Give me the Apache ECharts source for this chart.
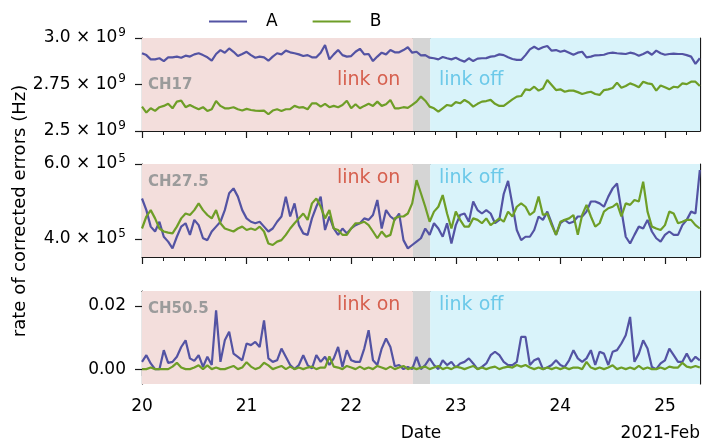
<!DOCTYPE html>
<html><head><meta charset="utf-8">
<script src="https://cdn.jsdelivr.net/npm/echarts@6/dist/echarts.min.js"></script>
<style>html,body{margin:0;padding:0;background:#fff}#c{width:702px;height:444px}</style>
</head><body><div id="c"></div>
<script>
// time base: hourly samples starting 2021-Feb-20 00:00 (x axis in day-of-month)
const dayStart = 20;
const stepHours = 1;
const xMin = 20, xMax = 25.335;
const xTickLabels = [20, 21, 22, 23, 24, 25];
const monthLabel = '2021-Feb';

// phases (day-of-month)
const linkOnSpan = [20, 22.59];
const transitionSpan = [22.59, 22.755];
const linkOffSpan = [22.755, 25.335];

// CH17 (units of 1e9 Hz)
const ch17A = [2.918,2.908,2.885,2.885,2.891,2.876,2.896,2.896,2.9,2.894,2.905,2.9,2.912,2.918,2.908,2.896,2.878,2.914,2.935,2.921,2.944,2.926,2.903,2.914,2.926,2.908,2.894,2.9,2.896,2.878,2.9,2.918,2.912,2.932,2.923,2.918,2.912,2.903,2.908,2.896,2.896,2.921,2.962,2.885,2.912,2.935,2.908,2.9,
2.903,2.926,2.942,2.912,2.914,2.876,2.9,2.921,2.912,2.935,2.923,2.923,2.935,2.95,2.921,2.926,2.907,2.908,2.894,2.891,2.885,2.898,2.891,2.885,2.894,2.882,2.873,2.891,2.876,2.889,2.891,2.892,2.9,2.903,2.912,2.908,2.896,2.887,2.882,2.882,2.908,2.939,2.953,2.939,2.95,2.957,2.932,2.935,2.926,2.932,2.921,2.91,2.921,2.926,2.896,2.9,2.907,2.908,2.91,2.918,2.921,2.918,2.916,2.914,2.921,2.916,2.905,2.914,2.926,2.91,2.932,2.918,2.91,2.914,2.916,2.914,2.914,2.908,2.9,2.861,2.891];
const ch17B = [2.631,2.599,2.622,2.608,2.628,2.635,2.646,2.622,2.658,2.663,2.628,2.64,2.628,2.617,2.628,2.608,2.617,2.661,2.635,2.622,2.622,2.628,2.617,2.61,2.619,2.613,2.61,2.608,2.61,2.59,2.61,2.617,2.608,2.617,2.617,2.635,2.626,2.628,2.617,2.649,2.649,2.631,2.646,2.628,2.635,2.628,2.64,2.663,
2.622,2.644,2.622,2.635,2.646,2.635,2.658,2.635,2.644,2.667,2.622,2.622,2.628,2.624,2.64,2.658,2.685,2.663,2.631,2.622,2.604,2.622,2.64,2.635,2.655,2.649,2.667,2.653,2.631,2.646,2.658,2.661,2.667,2.646,2.635,2.635,2.653,2.67,2.685,2.688,2.724,2.72,2.738,2.717,2.729,2.774,2.747,2.72,2.724,2.711,2.717,2.717,2.709,2.699,2.706,2.711,2.699,2.694,2.72,2.724,2.731,2.76,2.733,2.742,2.756,2.747,2.735,2.765,2.756,2.752,2.717,2.745,2.735,2.724,2.738,2.735,2.756,2.752,2.765,2.765,2.742];

// CH27.5 (units of 1e5 Hz)
const ch27A = [5.08,4.77,4.33,4.2,4.46,4.06,3.93,3.75,4.06,4.33,4.42,4.11,4.51,4.37,4.02,3.97,4.2,4.33,4.46,4.77,5.22,5.35,5.13,4.77,4.55,4.46,4.42,4.46,4.33,4.2,4.28,4.46,4.6,5.13,4.6,4.95,4.37,4.15,4.11,4.55,4.86,5.13,4.24,4.6,
4.28,4.11,4.28,4.15,4.28,4.37,4.42,4.55,4.51,4.64,5.04,4.28,4.77,4.6,4.51,4.68,3.97,3.75,3.84,3.93,4.02,4.28,4.11,4.42,4.28,4.06,4.42,3.88,4.37,4.64,4.68,4.46,5.0,4.77,4.68,4.77,4.68,4.42,4.51,5.2,5.55,4.91,
4.24,3.97,4.06,4.06,4.24,4.6,4.51,4.73,4.42,4.11,4.42,4.51,4.42,4.46,4.6,4.6,4.73,5.0,5.0,4.95,4.86,5.13,5.35,5.48,4.77,4.06,3.88,4.11,4.33,4.28,4.51,4.2,4.02,3.93,4.11,4.2,4.11,4.11,4.37,4.51,4.73,4.68,5.84];
const ch27B = [4.28,4.6,4.77,4.55,4.28,4.2,4.17,4.15,4.33,4.55,4.68,4.64,4.77,4.95,4.77,4.64,4.55,4.77,4.42,4.28,4.24,4.2,4.28,4.33,4.24,4.28,4.24,4.33,4.2,3.88,3.84,3.93,3.97,4.11,4.28,4.42,4.55,4.68,4.51,4.95,5.08,4.86,4.55,4.77,
4.28,4.24,4.11,4.11,4.28,4.42,4.42,4.46,4.37,4.2,4.02,4.2,4.06,4.11,4.55,4.6,4.6,4.68,4.95,5.57,5.22,4.86,4.46,4.73,4.86,5.17,4.68,4.28,4.73,4.51,4.33,4.33,4.55,4.51,4.42,4.55,4.37,4.46,4.55,4.46,4.73,4.6,
4.86,4.95,4.86,4.64,4.73,5.13,4.64,4.68,4.37,4.11,4.46,4.51,4.55,4.64,4.11,4.64,4.91,4.6,4.33,4.42,4.73,4.82,4.86,4.95,4.6,4.95,4.91,5.04,5.0,5.53,4.73,4.33,4.28,4.24,4.37,4.73,4.68,4.42,4.46,4.51,4.51,4.37,4.28];

// CH50.5 (Hz)
const ch50A = [0.0023,0.0044,0.0018,0,0,0.006,0.002,0.0023,0.0039,0.007,0.0091,0.0034,0.0026,0.0044,0.0007,0.0039,0.0013,0.0186,0.0023,0.0091,0.0118,0.0049,0.0039,0.0028,0.0081,0.0076,0.0086,0.007,0.0154,0.0034,0.0023,0.0028,0.0065,0.0039,0.0013,0,0.0013,0.0044,0.0013,0.0002,0.0044,0.0023,0.0039,0.0013,
0.0034,0.007,0.0007,0.006,0.0028,0.0023,0.0023,0.0065,0.0123,0.0028,0.0013,0.0065,0.0097,0.007,0.0009,0.0013,0,0.0007,0,0.0039,0,0.0013,0.0034,0.0013,0,0.0028,0.0013,0.0023,0.0005,0.0018,0.0023,0.0034,0.0018,0,0.0007,0.0018,0.0044,0.0055,0.0044,0.0023,0.0013,0.0013,
0.0023,0.0102,0.0102,0.0013,0.0028,0.0034,0,0.0005,0.0013,0.0028,0.0013,0.0007,0.0028,0.006,0.0034,0.0023,0.0034,0.006,0.0013,0.0055,0.0049,0.0013,0.0055,0.006,0.0081,0.0107,0.0165,0.0023,0.0049,0.0091,0.0065,0.0007,0,0.0018,0.0028,0.0065,0.0044,0.0023,0.0023,0.0049,0.0023,0.0039,0.0028];
const ch50B = [0,0,0.0005,0,0,0,0,0.0008,0.002,0.0005,0,0,0.0005,0.0012,0,0.0012,0,0.0005,0,0,0.0005,0.001,0,0.0005,0.0022,0.0008,0,0.0005,0.002,0.0012,0,0.0005,0.001,0,0.0008,0,0.0005,0,0.0005,0.0008,0,0.0005,0.0005,0.004,
0.0008,0.0005,0,0.001,0.0005,0,0.0008,0,0.0005,0,0.001,0.0005,0,0.0008,0,0.0005,0.001,0,0.0005,0,0.0005,0.0008,0,0.0005,0.001,0,0.0005,0,0.0008,0.0005,0,0.0005,0.001,0,0.0005,0,0.0005,0.0008,0,0.0005,0.0008,0.0005,
0.0013,0.0008,0.0013,0.0005,0,0.0005,0,0.0005,0,0.0005,0,0.0005,0,0.0005,0.0005,0,0.0023,0.0005,0,0.0005,0,0.0005,0.0012,0,0.0005,0,0.0005,0,0.001,0,0.0005,0,0,0.0005,0,0.0008,0.0005,0.0005,0.002,0.0008,0.0005,0.001,0.0005];

const seriesNames = ['A', 'B'];
const panelNames = ['CH17', 'CH27.5', 'CH50.5'];
const yTicks = [[2.5, 2.75, 3.0], [4.0, 6.0], [0.0, 0.02]];
const yRanges = [[2.5, 3.0], [3.52, 6.0], [-0.0047, 0.0247]];
const yExponents = ['9', '5', null];

// ---- styling ----
const FONT = 'DejaVu Sans';
const colA = '#5353a3', colB = '#6e9e27';
const pink = '#f3dedc', grey = '#d5d5d5', cyan = '#d9f3fa';
const frame = '#1a1a1a';
const gridTops = [38, 164, 291];
const gridH = 93;

const minorTicks = [];
xTickLabels.forEach(d => { [0.2, 0.4, 0.6, 0.8].forEach(f => { const v = +(d + f).toFixed(2); if (v <= xMax) minorTicks.push(v); }); });

function pts(arr) { return arr.map((v, i) => [dayStart + i * stepHours / 24, v]); }

const data = [[ch17A, ch17B], [ch27A, ch27B], [ch50A, ch50B]];

const grid = [], xAxis = [], yAxis = [], series = [];
for (let g = 0; g < 3; g++) {
  grid.push({ left: 142, right: 2, top: gridTops[g], height: gridH });
  const base = { gridIndex: g, type: 'value', min: xMin, max: xMax, splitLine: { show: false } };
  xAxis.push(Object.assign({}, base, {
    position: 'bottom',
    axisLine: { show: true, lineStyle: { color: frame, width: 1.2 } },
    axisTick: { show: true, customValues: xTickLabels, length: 7, lineStyle: { color: frame, width: 1.2 } },
    axisLabel: { show: g === 2, customValues: xTickLabels, fontSize: 17, color: '#000', fontFamily: FONT, margin: 14 }
  }));
  xAxis.push(Object.assign({}, base, {
    position: 'bottom',
    axisLine: { show: false },
    axisTick: { show: true, customValues: minorTicks, length: 4, lineStyle: { color: frame, width: 1 } },
    axisLabel: { show: false }
  }));
  xAxis.push(Object.assign({}, base, {
    position: 'top',
    axisLine: { show: true, lineStyle: { color: frame, width: 1.2 } },
    axisTick: { show: false }, axisLabel: { show: false }
  }));
  const exp = yExponents[g];
  const ybase = { gridIndex: g, type: 'value', min: yRanges[g][0], max: yRanges[g][1], splitLine: { show: false } };
  yAxis.push(Object.assign({}, ybase, {
    position: 'left',
    axisLine: { show: true, lineStyle: { color: frame, width: 1.2 } },
    axisTick: { show: true, customValues: yTicks[g], length: 7, lineStyle: { color: frame, width: 1.2 } },
    axisLabel: {
      customValues: yTicks[g], margin: 16, color: '#000', fontSize: 17, fontFamily: FONT,
      formatter: v => {
        if (!exp) return v.toFixed(2);
        const m = (Math.abs(v - 2.75) < 1e-9) ? '2.75' : v.toFixed(1);
        return '{m|' + m + ' × 10}{e|' + exp + '}';
      },
      rich: {
        m: { fontSize: 17, fontFamily: FONT, color: '#000' },
        e: { fontSize: 12, fontFamily: FONT, color: '#000', padding: [0, 0, 11, 1] }
      }
    }
  }));
  yAxis.push(Object.assign({}, ybase, {
    position: 'right',
    axisLine: { show: true, lineStyle: { color: frame, width: 1.2 } },
    axisTick: { show: false }, axisLabel: { show: false }
  }));
  // background phases
  series.push({
    type: 'line', name: 'phase' + g, xAxisIndex: 3 * g, yAxisIndex: 2 * g, z: 1, silent: true,
    data: pts(data[g][0]), showSymbol: false, lineStyle: { opacity: 0 }, itemStyle: { opacity: 0 },
    markArea: {
      silent: true,
      data: [
        [{ xAxis: linkOnSpan[0], itemStyle: { color: pink } }, { xAxis: linkOnSpan[1] }],
        [{ xAxis: transitionSpan[0], itemStyle: { color: grey } }, { xAxis: transitionSpan[1] }],
        [{ xAxis: linkOffSpan[0], itemStyle: { color: cyan } }, { xAxis: linkOffSpan[1] }]
      ]
    }
  });
  [0, 1].forEach(k => {
    series.push({
      type: 'line', name: seriesNames[k], xAxisIndex: 3 * g, yAxisIndex: 2 * g, z: 3 + k,
      data: pts(data[g][k]), showSymbol: false, symbol: 'none',
      lineStyle: { color: k ? colB : colA, width: 2.2 }, itemStyle: { color: k ? colB : colA }
    });
  });
}

const txt = (x, y, text, font, fill, align, extra) => Object.assign({
  type: 'text', x, y, silent: true, z: 100, zlevel: 0,
  style: { text, font, fill, align: align || 'left', verticalAlign: 'middle', textAlign: align || 'left', textVerticalAlign: 'middle' }
}, extra || {});

const labelY = [[85, 80.5], [182.5, 178.5], [309, 305.5]];
const graphics = [];
for (let g = 0; g < 3; g++) {
  graphics.push(txt(148, labelY[g][0], panelNames[g], 'bold 15px "DejaVu Sans"', '#9b9b9b'));
  graphics.push(txt(337, labelY[g][1], 'link on', '19px "DejaVu Sans"', '#d6604f'));
  graphics.push(txt(439, labelY[g][1], 'link off', '19px "DejaVu Sans"', '#6cc9e9'));
}
graphics.push(txt(20, 211, 'rate of corrected errors (Hz)', '18px "DejaVu Sans"', '#000', 'center', { rotation: Math.PI / 2 }));
graphics.push(txt(421, 434, 'Date', '17px "DejaVu Sans"', '#000', 'center'));
graphics.push(txt(700, 434, monthLabel, '17px "DejaVu Sans"', '#000', 'right'));

const chart = echarts.init(document.getElementById('c'), null, { renderer: 'canvas' });
chart.setOption({
  animation: false,
  backgroundColor: '#fff',
  legend: {
    data: seriesNames, left: 204, top: 8, icon: 'rect', itemWidth: 38, itemHeight: 2, itemGap: 35,
    textStyle: { fontSize: 17, color: '#000', fontFamily: FONT, padding: [0, 0, 0, 14] }
  },
  grid, xAxis, yAxis, series,
  graphic: { elements: graphics, z: 100 }
});
</script></body></html>
